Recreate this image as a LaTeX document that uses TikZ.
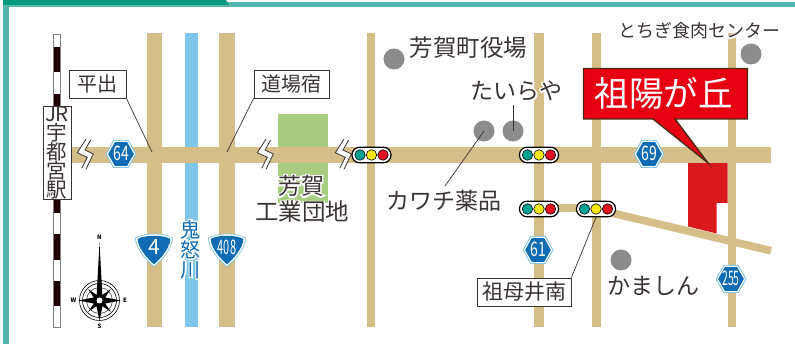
\documentclass[tikz,border=0pt]{standalone}
\usepackage{fontspec}
\setmainfont{Noto Sans CJK JP}
\usetikzlibrary{calc}
\definecolor{roadc}{HTML}{D5BE87}
\definecolor{riverc}{HTML}{7FC6E8}
\definecolor{parkc}{HTML}{A8CC80}
\definecolor{bluec}{HTML}{0F6BB3}
\definecolor{tealc}{HTML}{55B6AE}
\definecolor{dgreenc}{HTML}{079A80}
\definecolor{inkc}{HTML}{3A3433}
\definecolor{dotc}{HTML}{8C8C8C}
\definecolor{redc}{HTML}{E60012}
\definecolor{bldc}{HTML}{D9191B}
\definecolor{sigg}{HTML}{00A095}
\definecolor{sigy}{HTML}{F6E715}
\definecolor{sigr}{HTML}{E60D22}
\definecolor{brownc}{HTML}{4A2C16}
\newcommand{\halo}[1]{\leavevmode\rlap{\addfontfeature{FakeBold=13}\textcolor{white}{#1}}#1}
\newcommand{\sizept}[1]{\fontsize{#1}{#1}\selectfont}
\tikzset{
 x=1pt,y=-1pt,
 road/.style={fill=roadc,draw=none},
 lbl/.style={inner sep=0,text=inkc,font=\sizept{23}},
 tag/.style={draw=inkc,fill=white,line width=0.8pt,inner sep=0,text=inkc,font=\sizept{20},minimum height=28pt},
 leader/.style={draw=inkc,line width=0.7pt},
 spot/.style={circle,fill=dotc,minimum size=21pt,inner sep=0},
 capsule/.style={rounded corners=7.5pt,draw=black,fill=white,line width=1.2pt},
 lamp/.style={circle,draw=black,line width=0.6pt,minimum size=10.5pt,inner sep=0},
 compasslbl/.style={inner sep=0,font=\fontsize{6}{6}\selectfont\bfseries},
}
\newcommand{\signal}[3]{%
 \node[capsule,minimum width=39pt,minimum height=15.5pt,inner sep=0] (#3) at (#1,#2) {};
 \node[lamp,fill=sigg] (#3g) at (#1-11.5,#2) {};
 \node[lamp,fill=sigy] (#3y) at (#1,#2) {};
 \node[lamp,fill=sigr] (#3r) at (#1+11.5,#2) {};
}
% x, y, text, horizontal squeeze
\newcommand{\hexshield}[4]{%
 \begin{scope}[shift={(#1,#2)}]
 \fill[riverc] (-15.5,0)--(-7.5,-14)--(7.5,-14)--(15.5,0)--(7.5,14)--(-7.5,14)--cycle;
 \fill[white] (-14.3,0)--(-6.9,-13)--(6.9,-13)--(14.3,0)--(6.9,13)--(-6.9,13)--cycle;
 \fill[bluec] (-12.8,0)--(-6.2,-11.8)--(6.2,-11.8)--(12.8,0)--(6.2,11.8)--(-6.2,11.8)--cycle;
 \node[text=white,inner sep=0,font=\sizept{20},xscale=#4] at (0,-.5) {#3};
 \end{scope}
}
\newcommand{\triangleshield}[5]{%
 \begin{scope}[shift={(#1,#2)}]
 \fill[riverc] (-19,-10) .. controls (-10,-16) and (10,-16) .. (19,-10) .. controls (19,0) and (8,13) .. (0,19) .. controls (-8,13) and (-19,0) .. (-19,-10) -- cycle;
 \fill[white] (-18,-9.7) .. controls (-10,-15) and (10,-15) .. (18,-9.7) .. controls (18,0) and (7.5,12) .. (0,18) .. controls (-7.5,12) and (-18,0) .. (-18,-9.7) -- cycle;
 \fill[bluec] (-16.3,-9) .. controls (-10,-13.3) and (10,-13.3) .. (16.3,-9) .. controls (16,0) and (6.5,11) .. (0,16.3) .. controls (-6.5,11) and (-16,0) .. (-16.3,-9) -- cycle;
 \node[text=white,inner sep=0,font=\sizept{#4},xscale=#5] at (0,-.5) {#3};
 \end{scope}
}
\newcommand{\roadbreak}[2]{%
 \begin{scope}[shift={(#1,#2)}]
 \fill[white] (1,-16)--(-7.7,-2.3)--(2.3,2.3)--(-3.3,13.3)--(1,14.3)--(8.3,-1)--(0,-5)--(5.7,-15)--cycle;
 \draw[draw=inkc,line width=.8pt] (1,-16)--(-7.7,-2.3)--(2.3,2.3)--(-3.3,13.3);
 \draw[draw=inkc,line width=.8pt] (5.7,-15)--(0,-5)--(8.3,-1)--(1,14.3);
 \end{scope}
}
\begin{document}
\begin{tikzpicture}
\useasboundingbox (0,0) rectangle (795,344);
\fill[white] (0,0) rectangle (795,344);
% frame
\fill[tealc] (3,0) rectangle (8.5,344);
\fill[tealc] (3,2) rectangle (795,7);
\fill[dgreenc] (3,0) -- (226,0) -- (229,5) -- (3,5) -- cycle;
% park
\fill[parkc] (278,114) rectangle (328,203);
% vertical roads
\fill[road] (147,33) rectangle (162,327);
\fill[riverc] (185,33) rectangle (198,327);
\fill[road] (219,33) rectangle (235,327);
\fill[road] (367,33) rectangle (375,327);
\fill[road] (534,33) rectangle (544,327);
\fill[road] (592,33) rectangle (601,327);
\fill[road] (727.5,33) rectangle (735.5,327);
% building
\fill[bldc] (688,163)--(727.7,163)--(727.7,203)--(716.7,203)--(716.7,233.5)--(688,226.5)--cycle;
% horizontal roads
\fill[road] (70,147) rectangle (771,163);
\fill[road] (539,204) rectangle (596,212);
\fill[road] (612,209)--(772,247)--(770,254.5)--(612,217)--cycle;
% rail
\fill[white] (53,34) rectangle (60.5,327);
\foreach \a/\b in {47/72,94/106,199/213,234/260,281/306}{\fill[black!88!red] (53,\a) rectangle (60.5,\b);}
\draw[black!50,line width=.5pt] (53,34) rectangle (60.5,327);
% road breaks
\roadbreak{85}{155}
\roadbreak{265}{155}
\roadbreak{343}{155}
% spots
\node[spot] (d1) at (394,59) {};
\node[spot] (d2) at (484,131) {};
\node[spot] (d3) at (513,131) {};
\node[spot] (d4) at (751,54) {};
\node[spot] (d5) at (621,260) {};
\coordinate (leadA) at (152,152);
\coordinate (leadB) at (227,152);
% labels
\node[tag,minimum width=57pt] (hiraide) at (97.5,84) {平出};
\node[tag,minimum width=75pt] (dojo) at (291.5,84) {道場宿};
\node[tag,minimum width=94pt,font=\sizept{21}] (sobo) at (524,292) {祖母井南};
\draw[leader] (hiraide.south east) -- (leadA);
\draw[leader] (dojo.south west) -- (leadB);
\node[lbl,font=\sizept{23.5}] (town) at (468.5,48) {芳賀町役場};
\node[lbl] (tairaya) at (516.5,91) {\halo{たいらや}};
\node[lbl] (kawachi) at (443.5,201) {カワチ薬品};
\node[lbl] (kamashin) at (653,286) {かましん};
\node[lbl,font=\sizept{18}] (tochigi) at (699,31) {\halo{とちぎ食肉センター}};
\coordinate (kawaend) at (445,186);
\coordinate (tairaend) at (513,105);
\draw[leader] (d2.center) -- (kawaend);
\draw[leader] (d3.center) -- (tairaend);
% station
\node[draw=inkc,fill=white,line width=.9pt,minimum width=28pt,minimum height=93pt,inner sep=0] (jr) at (57,152.5) {};
\node[inner sep=0,text=inkc,align=center,font=\sizept{20.5}] (jrt) at (57,152.5) {JR\\[-1.5pt]宇\\[-1.5pt]都\\[-1.5pt]宮\\[-1.5pt]駅};
% industrial
\node[inner sep=0,text=inkc,font=\sizept{23}] (haga) at (301,186) {\halo{芳賀}};
\node[inner sep=0,text=inkc,font=\sizept{23.5}] (kogyo) at (302,212) {\halo{工業団地}};
% river
\node[inner sep=0,text=bluec,align=center,font=\sizept{20}] (kinu) at (190.5,249.5) {\halo{鬼}\\[0pt]\halo{怒}\\[0pt]\halo{川}};
% signals
\signal{371.5}{155}{s1}
\signal{539}{155}{s2}
\signal{539}{209}{s3}
\signal{596}{209}{s4}
\draw[leader] (sobo.north east) -- (s4.south);
% shields
\hexshield{121}{154}{64}{.7}
\hexshield{649}{154}{69}{.7}
\hexshield{538}{250}{61}{.7}
\hexshield{731}{279}{255}{.52}
\triangleshield{154}{248}{4}{21}{1}
\triangleshield{227}{248}{408}{20}{.55}
% callout
\draw[fill=redc,draw=brownc,line width=1.4pt,line join=miter] (583.5,68.5)--(747.5,68.5)--(747.5,119)--(675,119)--(708,163)--(653,119)--(583.5,119)--cycle;
\node[inner sep=0,text=white,font=\sizept{34.5}] (soyo) at (663.5,93) {祖陽が丘};
% compass
\begin{scope}[shift={(99.5,300.5)}]
 \draw[black,line width=.6pt] (0,0) circle (20);
 \draw[black,line width=.6pt] (0,0) circle (17);
 \draw[black,line width=.4pt] (0,0) circle (13);
 \fill[black] (0,-58)--(2.8,-6)--(0,0)--(-2.8,-6)--cycle;
 \fill[black] (0,20)--(3.2,5)--(0,0)--(-3.2,5)--cycle;
 \fill[black] (-21,0)--(-5,-3.2)--(0,0)--(-5,3.2)--cycle;
 \fill[black] (21,0)--(5,-3.2)--(0,0)--(5,3.2)--cycle;
 \foreach \r in {45,135,225,315}{\fill[black,rotate=\r] (0,-16)--(2.5,-3)--(-2.5,-3)--cycle;}
 \fill[white] (0,0) circle (3);
 \node[compasslbl] (cn) at (0,-63.5) {N};
 \node[compasslbl] (cs) at (0,26) {S};
 \node[compasslbl] (cw) at (-26,0) {W};
 \node[compasslbl] (ce) at (25.5,0) {E};
\end{scope}
\end{tikzpicture}
\end{document}
